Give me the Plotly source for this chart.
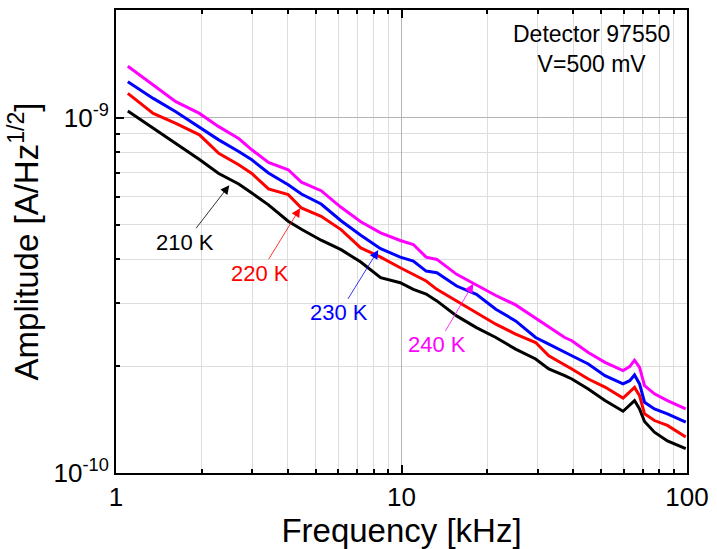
import plotly.graph_objects as go

# Frequency in kHz
freq_khz = [1.1, 1.35, 1.62, 1.96, 2.29, 2.69, 2.99, 3.42, 4.01, 4.46, 5.23, 6.14, 7.2, 8.45,
            9.9, 11.0, 12.2, 13.3, 15.6, 18.3, 21.4, 25.1, 29.5, 32.8, 37.3, 39.5, 45.1, 51.6,
            59.7, 63.0, 65.5, 68.2, 71.0, 76.9, 85.4, 99.0]

# Amplitudes in units of 1e-10 A/Hz^1/2
amp_240K = [13.96, 12.35, 11.09, 10.28, 9.435, 8.735, 8.12, 7.48, 7.135, 6.585, 6.231, 5.594,
            5.094, 4.739, 4.512, 4.397, 4.051, 3.991, 3.623, 3.381, 3.159, 2.972, 2.733, 2.578,
            2.406, 2.356, 2.184, 2.048, 1.941, 1.992, 2.077, 1.983, 1.762, 1.670, 1.599, 1.515]
amp_230K = [12.62, 11.33, 10.39, 9.374, 8.66, 8.029, 7.61, 6.989, 6.477, 6.096, 5.714, 5.127,
            4.668, 4.279, 4.051, 3.949, 3.701, 3.661, 3.359, 3.184, 2.89, 2.68, 2.406, 2.306,
            2.194, 2.138, 2.027, 1.879, 1.781, 1.819, 1.888, 1.781, 1.582, 1.515, 1.467, 1.39]
amp_220K = [11.70, 10.28, 9.639, 8.945, 7.941, 7.368, 6.966, 6.304, 6.073, 5.569, 5.279, 4.843,
            4.301, 4.051, 3.781, 3.623, 3.47, 3.288, 3.05, 2.827, 2.623, 2.46, 2.329, 2.138,
            2.018, 1.962, 1.839, 1.745, 1.625, 1.687, 1.742, 1.651, 1.467, 1.405, 1.361, 1.262]
amp_210K = [10.44, 9.333, 8.483, 7.625, 6.966, 6.51, 6.136, 5.685, 5.11, 4.853, 4.52, 4.252,
            3.923, 3.544, 3.431, 3.288, 3.19, 3.05, 2.768, 2.566, 2.406, 2.232, 2.093, 1.962,
            1.879, 1.839, 1.724, 1.599, 1.492, 1.548, 1.599, 1.515, 1.396, 1.303, 1.231, 1.171]
amp_unit = 1e-10

series_names = ["210 K", "220 K", "230 K", "240 K"]
series_colors = ["#000000", "#FF0000", "#0000FF", "#FF00FF"]
series_values = [amp_210K, amp_220K, amp_230K, amp_240K]

x_tickvals = [1, 10, 100]
x_ticktext = ["1", "10", "100"]
y_tickvals = [1e-10, 1e-9]
y_ticktext = ["10<sup>-10</sup>", "10<sup>-9</sup>"]
x_minor = [2, 3, 4, 5, 6, 7, 8, 9, 20, 30, 40, 50, 60, 70, 80, 90]
y_minor = [k * 1e-10 for k in range(2, 10)]

FONT = "Liberation Sans, Arial, sans-serif"

fig = go.Figure()
for name, color, vals in zip(series_names, series_colors, series_values):
    fig.add_trace(go.Scatter(
        x=freq_khz, y=[v * amp_unit for v in vals], mode="lines", name=name,
        line=dict(color=color, width=3), showlegend=False,
    ))

fig.update_layout(
    width=717, height=549,
    margin=dict(l=116, r=24, t=8, b=76),
    paper_bgcolor="white", plot_bgcolor="white",
    font=dict(family=FONT, color="black"),
)

fig.update_xaxes(
    type="log", range=[0, 2],
    tickvals=x_tickvals, ticktext=x_ticktext,
    tickfont=dict(size=26, family=FONT),
    ticks="inside", ticklen=8, tickwidth=1.5, tickcolor="black",
    showline=True, linecolor="black", linewidth=2, mirror="allticks",
    showgrid=True, gridcolor="#b4b4b4", gridwidth=1,
    minor=dict(tickvals=x_minor, ticks="inside", ticklen=4, tickwidth=1.5, tickcolor="black",
               showgrid=True, gridcolor="#dddddd", gridwidth=1),
    title=dict(text="Frequency [kHz]", font=dict(size=33, family=FONT), standoff=6),
    zeroline=False,
)

fig.update_yaxes(
    type="log", range=[-10, -8.697],
    tickvals=y_tickvals, ticktext=y_ticktext,
    tickfont=dict(size=26, family=FONT),
    ticks="inside", ticklen=8, tickwidth=1.5, tickcolor="black",
    showline=True, linecolor="black", linewidth=2, mirror=True,
    showgrid=True, gridcolor="#b4b4b4", gridwidth=1,
    minor=dict(tickvals=y_minor, ticks="inside", ticklen=4, tickwidth=1.5, tickcolor="black",
               showgrid=True, gridcolor="#dddddd", gridwidth=1),
    title=dict(text="Amplitude [A/Hz<sup>1/2</sup>]", font=dict(size=33, family=FONT), standoff=5),
    zeroline=False,
)

# Info text
fig.add_annotation(xref="paper", yref="paper", x=0.8336, y=0.9161,
                   xanchor="center", yanchor="middle",
                   text="Detector 97550<br>V=500 mV", showarrow=False,
                   font=dict(size=23, family=FONT, color="black"), align="center")

# Curve labels with arrows pointing to the curves (tip in paper coords, label offset in px)
arrow_tip = [(0.1984, 0.6215), (0.3224, 0.5720), (0.4593, 0.4817), (0.6256, 0.4086)]
label_offset = [(-44, 57), (-40, 65), (-39, 63), (-36, 61)]
for name, color, (tx, ty), (axp, ayp) in zip(series_names, series_colors,
                                               arrow_tip, label_offset):
    fig.add_annotation(xref="paper", yref="paper", x=tx, y=ty, text=name,
                       showarrow=True, ax=axp, ay=ayp, arrowhead=2, arrowsize=2.2,
                       arrowwidth=0.8, arrowcolor=color, borderpad=1,
                       font=dict(size=22, family=FONT, color=color))

fig.write_html("out.html")
